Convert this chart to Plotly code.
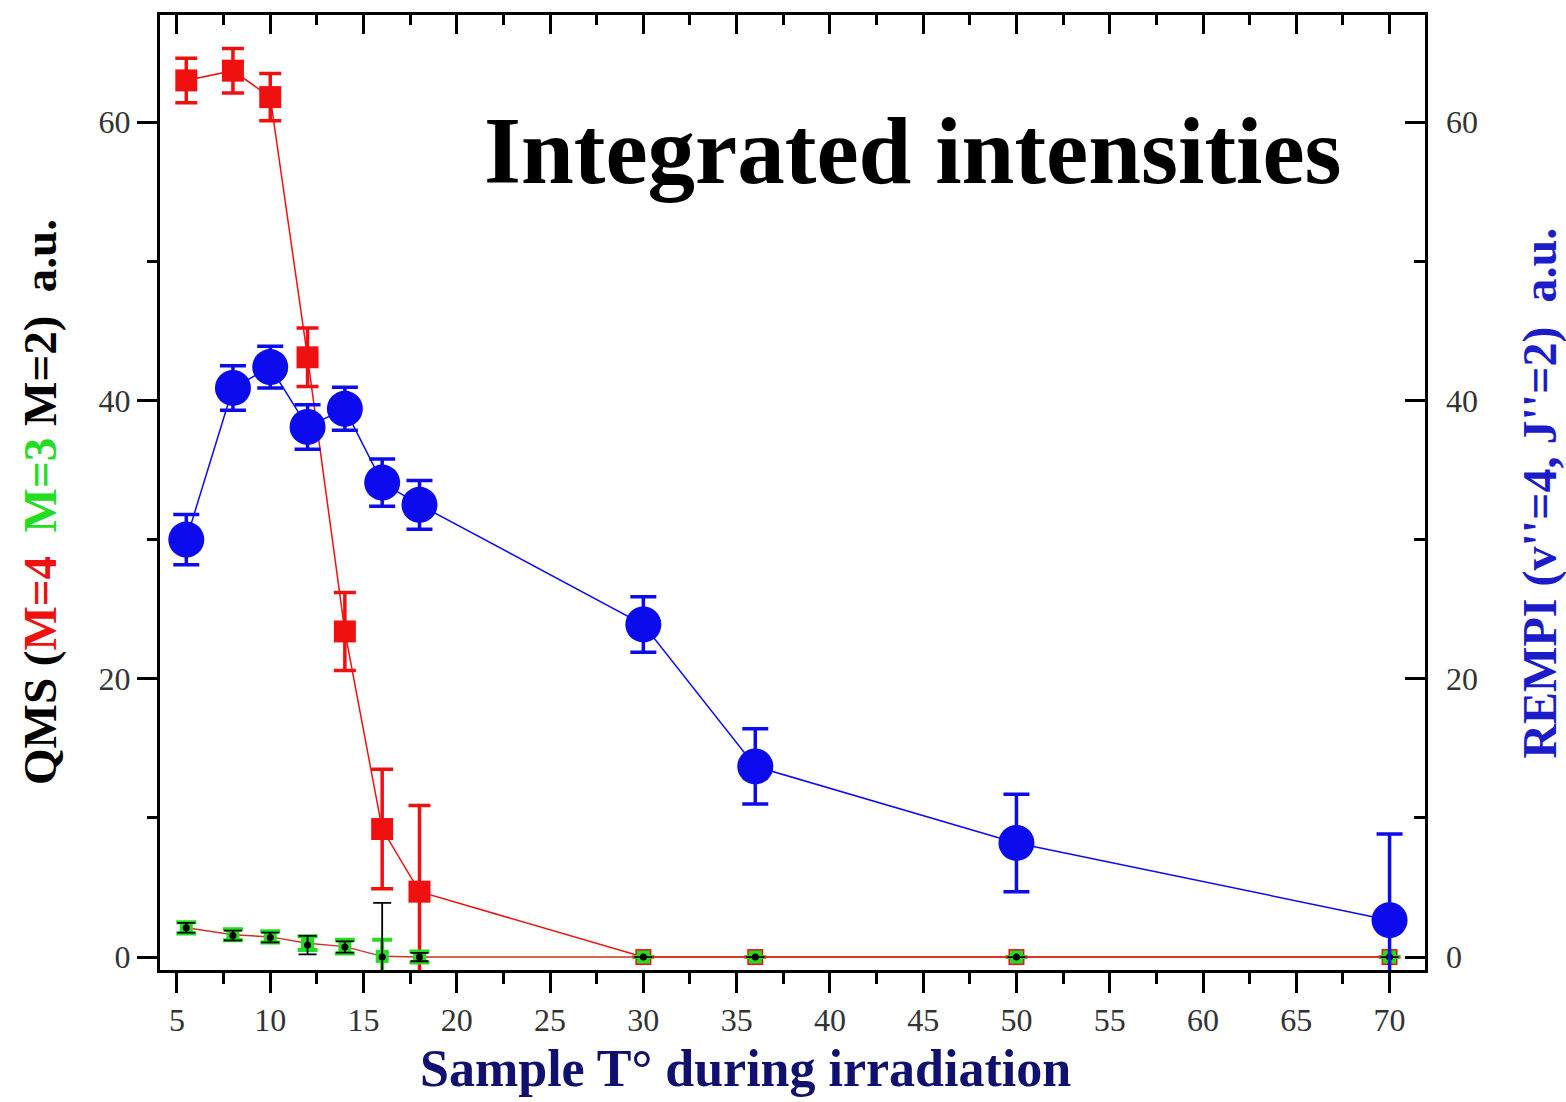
import plotly.graph_objects as go

# ---- data ----
temps = [5.5, 8, 10, 12, 14, 16, 18, 30, 36, 50, 70]

qms_m4 = [63.0, 63.7, 61.8, 43.1, 23.4, 9.2, 4.7, 0, 0, 0, 0]
qms_m4_err = [1.6, 1.6, 1.7, 2.1, 2.8, 4.3, 6.2, 0, 0, 0, 0]

qms_m3 = [2.1, 1.6, 1.45, 1.0, 0.75, 0.05, 0.0, 0, 0, 0, 0]
qms_m3_err = [0.4, 0.4, 0.4, 0.5, 0.5, 1.2, 0.4, 0, 0, 0, 0]

qms_m2 = [2.1, 1.55, 1.4, 0.86, 0.72, 0.0, 0.0, 0, 0, 0, 0]
qms_m2_err = [0.35, 0.35, 0.35, 0.66, 0.4, 3.9, 0.3, 0, 0, 0, 0]

rempi = [30.0, 40.9, 42.4, 38.1, 39.4, 34.1, 32.5, 23.9, 13.7, 8.2, 2.65]
rempi_err = [1.8, 1.6, 1.5, 1.6, 1.55, 1.7, 1.75, 2.0, 2.7, 3.5, 6.2]

x_ticks = [5, 10, 15, 20, 25, 30, 35, 40, 45, 50, 55, 60, 65, 70]
y_ticks = [0, 20, 40, 60]

RED = "#f01010"
GREEN = "#22dd22"
BLUE = "#0b0bee"
NAVY = "#10106e"
FONT = "Liberation Serif"

fig = go.Figure()

# M=4 (red squares)
fig.add_trace(go.Scatter(
    x=temps, y=qms_m4, mode="lines+markers",
    line=dict(color=RED, width=1.5),
    marker=dict(symbol="square", size=[22] * 7 + [16] * 4, color=RED, opacity=1,
                line=dict(width=0)),
    error_y=dict(type="data", array=qms_m4_err, visible=True, color=RED, thickness=3.5, width=11),
    showlegend=False, cliponaxis=False,
))

# M=3 (green squares)
fig.add_trace(go.Scatter(
    x=temps, y=qms_m3, mode="lines+markers",
    line=dict(color="#cc3322", width=1.5),
    marker=dict(symbol="square", size=13, color=GREEN, opacity=1, line=dict(width=0)),
    error_y=dict(type="data", array=qms_m3_err, visible=True, color=GREEN, thickness=4, width=10),
    showlegend=False, cliponaxis=False,
))

# M=2 (black dots)
fig.add_trace(go.Scatter(
    x=temps, y=qms_m2, mode="markers",
    marker=dict(symbol="circle", size=7, color="black", opacity=1, line=dict(width=0)),
    error_y=dict(type="data", array=qms_m2_err, visible=True, color="black", thickness=1.8, width=9),
    showlegend=False, cliponaxis=False,
))

# REMPI (blue circles), right axis
fig.add_trace(go.Scatter(
    x=temps, y=rempi, mode="lines+markers", yaxis="y2",
    line=dict(color=BLUE, width=1.5),
    marker=dict(symbol="circle", size=36, color=BLUE, opacity=1, line=dict(width=0)),
    error_y=dict(type="data", array=rempi_err, visible=True, color=BLUE, thickness=3.5, width=13),
    showlegend=False,
))

# invisible trace for top tick axis
fig.add_trace(go.Scatter(x=[temps[0]], y=[qms_m4[0]], xaxis="x2", mode="markers",
                         marker=dict(opacity=0), showlegend=False, hoverinfo="skip"))

xr = [4.09, 71.9]
yr = [-0.93, 67.7]
tickfont = dict(family=FONT, size=32, color="#333333")

fig.update_layout(
    width=1566, height=1102,
    margin=dict(l=160, r=141, t=12, b=132),
    paper_bgcolor="white", plot_bgcolor="white",
    xaxis=dict(
        range=xr, tickvals=x_ticks, ticktext=[str(v) for v in x_ticks],
        ticks="outside", ticklen=20, tickwidth=3, tickcolor="black",
        minor=dict(dtick=2.5, tick0=0, ticks="outside", ticklen=11, tickwidth=3, tickcolor="black"),
        showline=True, linewidth=3, linecolor="black", mirror=True,
        showgrid=False, zeroline=False, tickfont=tickfont,
    ),
    xaxis2=dict(
        range=xr, overlaying="x", side="top", tickvals=x_ticks,
        ticks="inside", ticklen=19, tickwidth=3, tickcolor="black",
        minor=dict(dtick=2.5, tick0=0, ticks="inside", ticklen=10, tickwidth=3, tickcolor="black"),
        showticklabels=False, showline=False, showgrid=False, zeroline=False,
    ),
    yaxis=dict(
        range=yr, tickvals=y_ticks, ticktext=[str(v) for v in y_ticks],
        ticks="outside", ticklen=20, tickwidth=3, tickcolor="black",
        minor=dict(dtick=10, tick0=0, ticks="outside", ticklen=10, tickwidth=3, tickcolor="black"),
        showline=True, linewidth=3, linecolor="black", mirror=True,
        showgrid=False, zeroline=False, tickfont=tickfont,
    ),
    yaxis2=dict(
        range=yr, overlaying="y", side="right", tickvals=y_ticks, ticktext=[str(v) for v in y_ticks],
        ticks="inside", ticklen=20, tickwidth=3, tickcolor="black",
        minor=dict(dtick=10, tick0=0, ticks="inside", ticklen=11, tickwidth=3, tickcolor="black"),
        showline=False, showgrid=False, zeroline=False, tickfont=tickfont,
        ticklabelstandoff=20,
    ),
)

nb = "\u00a0"
left_title = ("<b>QMS (<span style='color:%s'>M=4</span>%s%s<span style='color:%s'>M=3</span> M=2)%s%sa.u.</b>"
              % (RED, nb, nb, GREEN, nb, nb))
right_title = "<b>REMPI (v''=4, J''=2)%s%sa.u.</b>" % (nb, nb)

fig.add_annotation(text="<b>Integrated intensities</b>", xref="paper", yref="paper",
                   x=0.595, y=0.858, xanchor="center", yanchor="middle", showarrow=False,
                   font=dict(family=FONT, size=95, color="black"))
fig.add_annotation(text="<b>Sample T° during irradiation</b>", xref="paper", yref="paper",
                   x=0.463, y=-0.1355, xanchor="center", yanchor="bottom", showarrow=False,
                   font=dict(family=FONT, size=52, color=NAVY))
fig.add_annotation(text=left_title, xref="paper", yref="paper", textangle=-90,
                   x=-0.0949, y=0.49, xanchor="center", yanchor="middle", showarrow=False,
                   font=dict(family=FONT, size=47, color="black"))
fig.add_annotation(text=right_title, xref="paper", yref="paper", textangle=-90,
                   x=1.091, y=0.499, xanchor="center", yanchor="middle", showarrow=False,
                   font=dict(family=FONT, size=48, color="#1c1cc8"))

fig.write_html("out.html")
